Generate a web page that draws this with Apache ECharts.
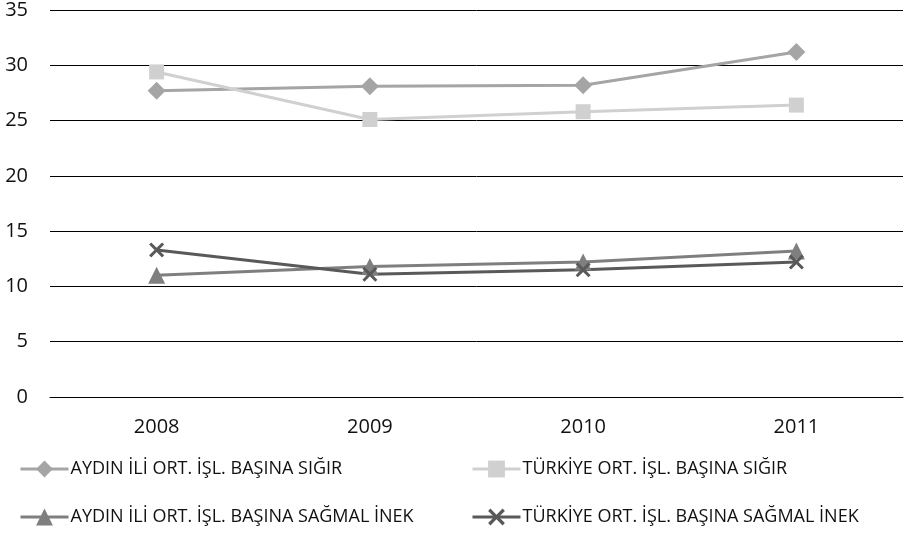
<!DOCTYPE html>
<html><head><meta charset="utf-8">
<script src="https://cdn.jsdelivr.net/npm/echarts@6/dist/echarts.min.js"></script>
<style>html,body{margin:0;padding:0;background:#fff}#c{width:905px;height:533px}</style>
</head><body><div id="c"></div>
<script>
const years = ['2008', '2009', '2010', '2011'];
const yTicks = [0, 5, 10, 15, 20, 25, 30, 35];
const aydinSigir = [27.7, 28.1, 28.2, 31.2];
const turkiyeSigir = [29.4, 25.1, 25.8, 26.4];
const aydinSagmal = [11.0, 11.8, 12.2, 13.2];
const turkiyeSagmal = [13.3, 11.1, 11.5, 12.2];
const names = ['AYDIN İLİ ORT. İŞL. BAŞINA SIĞIR', 'TÜRKİYE ORT. İŞL. BAŞINA SIĞIR',
  'AYDIN İLİ ORT. İŞL. BAŞINA SAĞMAL İNEK', 'TÜRKİYE ORT. İŞL. BAŞINA SAĞMAL İNEK'];

const xPath = 'path://M0,1.4 L1.4,0 L5,3.6 L8.6,0 L10,1.4 L6.4,5 L10,8.6 L8.6,10 L5,6.4 L1.4,10 L0,8.6 L3.6,5 Z';
const font = '"Open Sans", "Noto Sans", sans-serif';
const chart = echarts.init(document.getElementById('c'), null, {renderer: 'canvas'});
function ser(name, data, color, symbol, size) {
  return {name, type: 'line', data, symbol, symbolSize: size, showSymbol: true,
    lineStyle: {color, width: 3}, itemStyle: {color}, animation: false};
}
const legendCommon = {orient: 'vertical', itemWidth: 48, itemHeight: 21, itemGap: 30,
  padding: 0, lineStyle: {width: 3},
  textStyle: {fontFamily: font, fontSize: 18, color: '#111', padding: [0,0,0,-3]}};
chart.setOption({
  animation: false,
  textStyle: {fontFamily: font},
  grid: {left: 50, right: 2, top: 7, bottom: 136},
  xAxis: {type: 'category', data: years,
    axisLine: {lineStyle: {color: '#000', width: 1}}, axisTick: {show: false},
    axisLabel: {fontFamily: font, fontSize: 20, color: '#111', margin: 20}},
  yAxis: {type: 'value', min: 0, max: 35, interval: 5,
    axisLine: {show: false}, axisTick: {show: false},
    splitLine: {lineStyle: {color: '#000', width: 1}},
    axisLabel: {fontFamily: font, fontSize: 20, color: '#111', margin: 22}},
  legend: [
    Object.assign({left: 19, top: 460, data: [names[0], names[2]]}, legendCommon),
    Object.assign({left: 471, top: 460, data: [names[1], names[3]]}, legendCommon)
  ],
  series: [
    ser(names[0], aydinSigir, '#a5a5a5', 'diamond', 18),
    ser(names[1], turkiyeSigir, '#d0d0d0', 'rect', 15),
    ser(names[2], aydinSagmal, '#7f7f7f', 'triangle', 17),
    ser(names[3], turkiyeSagmal, '#595959', xPath, 15)
  ]
});
</script></body></html>
